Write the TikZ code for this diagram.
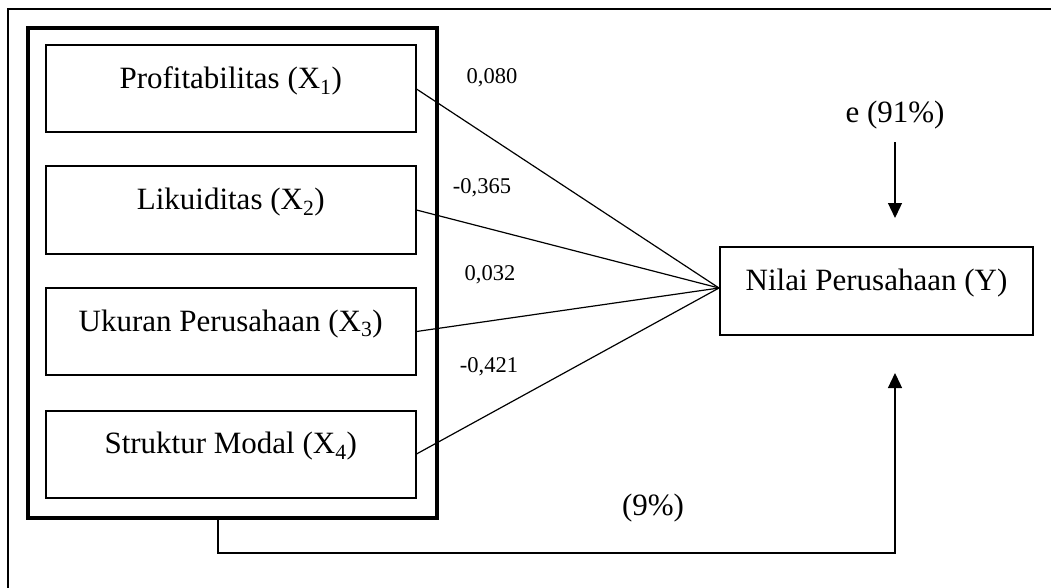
\documentclass[tikz,border=0pt]{standalone}
\usepackage{fontspec}
\setmainfont{Liberation Serif}
\usetikzlibrary{arrows.meta}

\newcommand{\mainsize}{\fontsize{31}{36}\selectfont}
\newcommand{\coefsize}{\fontsize{22.5}{27}\selectfont}

\begin{document}
\begin{tikzpicture}[x=1pt, y=-1pt,
    varbox/.style={draw, line width=2pt, inner sep=0pt, minimum width=369.5pt,
        minimum height=87pt, text height=22pt, text depth=23pt, font=\mainsize},
    path/.style={line width=1.2pt},
    arr/.style={line width=1.3pt, -{Triangle[width=14pt,length=15pt]}},
    coef/.style={font=\coefsize}]

\useasboundingbox (0,0) rectangle (1051,588);

% =========================
% Outer frame (cut off at right and bottom)
% =========================
\draw[line width=2pt] (8,588) |- (1051,9);

% =========================
% LEFT: independent variables
% =========================
\node (grup) [draw, line width=4pt, inner sep=0pt, minimum width=409pt,
    minimum height=490pt] at (232.5,273) {};

\node (prof)     [varbox] at (230.75,89)    {Profitabilitas (X\textsubscript{1})};
\node (likuid)   [varbox] at (230.75,210)   {Likuiditas (X\textsubscript{2})};
\node (ukuran)   [varbox] at (230.75,331.5) {Ukuran Perusahaan (X\textsubscript{3})};
\node (struktur) [varbox] at (230.75,454)   {Struktur Modal (X\textsubscript{4})};

% =========================
% RIGHT: dependent variable
% =========================
\node (nilai) [varbox, minimum width=313pt, minimum height=88pt] at (876.5,291)
    {Nilai Perusahaan (Y)};

% Paths
\draw[path] (prof.east)     -- ([yshift=3pt]nilai.west);
\draw[path] (likuid.east)   -- ([yshift=3pt]nilai.west);
\draw[path] (ukuran.east)   -- ([yshift=3pt]nilai.west);
\draw[path] (struktur.east) -- ([yshift=3pt]nilai.west);

% Path coefficients
\node (c1) [coef] at (492,78)  {0,080};
\node (c2) [coef] at (482,188) {-0,365};
\node (c3) [coef] at (490,275) {0,032};
\node (c4) [coef] at (489,367) {-0,421};

% Error term
\node (err) [font=\mainsize, inner sep=0pt] at (895,115) {e (91\%)};
\coordinate (eTip) at (895,218);
\draw[arr] ([yshift=-13pt]err.south) -- (eTip);

% Joint contribution
\coordinate (fbCorner) at (895,553);
\coordinate (fbTip) at (895,373);
\draw[arr] ([xshift=-14.5pt]grup.south) |- (fbCorner) -- (fbTip);
\node (joint) [font=\mainsize] at (653,508) {(9\%)};

\end{tikzpicture}
\end{document}
